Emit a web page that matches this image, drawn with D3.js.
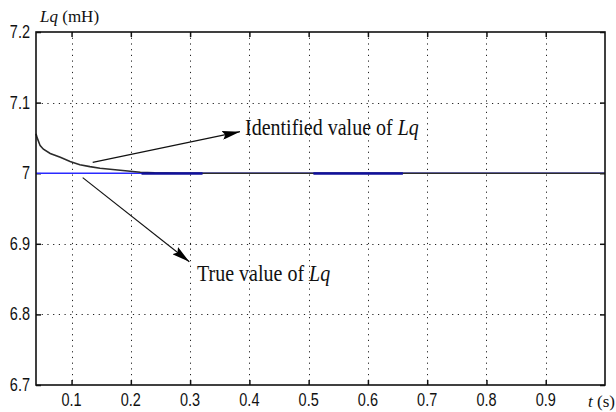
<!DOCTYPE html>
<html>
<head>
<meta charset="utf-8">
<script src="https://cdn.jsdelivr.net/npm/d3@7"></script>
<style>
  body { margin: 0; background: #fff; }
  svg { display: block; }
</style>
</head>
<body>
<svg id="chart" width="616" height="412"></svg>
<script>
// values
var tTicks = [0.1, 0.2, 0.3, 0.4, 0.5, 0.6, 0.7, 0.8, 0.9];
var lqTicks = [6.7, 6.8, 6.9, 7, 7.1, 7.2];
var trueT = [0.04, 1.0];
var trueLq = [7.0, 7.0];
var identT = [0.04, 0.042, 0.047, 0.0525, 0.064, 0.081, 0.0975, 0.114, 0.131, 0.148, 0.165, 0.182, 0.199, 0.216, 0.24, 0.28, 1.0];
var identLq = [7.056, 7.050, 7.039, 7.034, 7.028, 7.0225, 7.0165, 7.012, 7.0093, 7.007, 7.0057, 7.0042, 7.0028, 7.0014, 7.0005, 7.0, 7.0];
// where the true value line shows through
var showT = [[0.218, 0.321], [0.508, 0.659]];
// annotations [fromT, fromLq, toT, toLq], text anchor [t, lq]
var arrowIdent = [0.1357, 7.0154, 0.3842, 7.0588];
var textIdent = [0.3926, 7.054];
var arrowTrue = [0.1188, 6.9937, 0.2987, 6.8746];
var textTrue = [0.3117, 6.8473];

var svg = d3.select("#chart");
var pL = 36, pT = 32, pR = 605, pB = 385;
var serif = "'Liberation Serif', 'Times New Roman', serif";
var sans = "'Liberation Sans', Arial, sans-serif";

var x = d3.scaleLinear().domain([0.04, 1.0]).range([pL, pR]);
var y = d3.scaleLinear().domain([6.7, 7.2]).range([pB, pT]);

// grid
var grid = svg.append("g")
    .attr("stroke", "#222")
    .attr("stroke-width", 1)
    .attr("stroke-dasharray", "1.2,4.5");
grid.selectAll(".gx").data(tTicks).enter().append("line")
    .attr("x1", d => Math.round(x(d)) + 0.5).attr("x2", d => Math.round(x(d)) + 0.5)
    .attr("y1", pT).attr("y2", pB);
grid.selectAll(".gy").data(lqTicks.filter(d => d > 6.7 && d < 7.2)).enter().append("line")
    .attr("y1", d => Math.round(y(d)) + 0.5).attr("y2", d => Math.round(y(d)) + 0.5)
    .attr("x1", pL).attr("x2", pR);

// axes with inner ticks
var tickFmt = d => String(+d.toFixed(1));
var axB = svg.append("g").attr("transform", "translate(0," + pB + ")")
    .call(d3.axisBottom(x).tickValues(tTicks).tickSize(-5).tickFormat(""));
var axT = svg.append("g").attr("transform", "translate(0," + pT + ")")
    .call(d3.axisTop(x).tickValues(tTicks).tickSize(-5).tickFormat(""));
var axL = svg.append("g").attr("transform", "translate(" + pL + ",0)")
    .call(d3.axisLeft(y).tickValues(lqTicks).tickSize(-5).tickFormat(""));
var axR = svg.append("g").attr("transform", "translate(" + pR + ",0)")
    .call(d3.axisRight(y).tickValues(lqTicks).tickSize(-5).tickFormat(""));
[axB, axT, axL, axR].forEach(a => {
  a.select(".domain").remove();
  a.selectAll("line").attr("stroke", "#111").attr("stroke-width", 1.5);
});

// tick labels
svg.append("g").selectAll("text").data(tTicks).enter().append("text")
    .attr("transform", d => "translate(" + x(d) + ",406) scale(1,1.25)")
    .attr("text-anchor", "middle")
    .attr("font-family", sans)
    .attr("font-size", 14.5)
    .attr("fill", "#111")
    .text(tickFmt);
svg.append("g").selectAll("text").data(lqTicks).enter().append("text")
    .attr("transform", d => "translate(30," + (y(d) + 6) + ") scale(1,1.25)")
    .attr("text-anchor", "end")
    .attr("font-family", sans)
    .attr("font-size", 14.5)
    .attr("fill", "#111")
    .text(tickFmt);

// series
var line = d3.line().x(d => x(d[0])).y(d => y(d[1]));
svg.append("path")
    .datum(d3.zip(trueT, trueLq))
    .attr("d", line)
    .attr("fill", "none").attr("stroke", "#2a2aff").attr("stroke-width", 1.5);
svg.append("path")
    .datum(d3.zip(identT, identLq))
    .attr("d", line)
    .attr("fill", "none").attr("stroke", "#2b2b2b").attr("stroke-width", 1.6);
svg.append("g").selectAll("line").data(showT).enter().append("line")
    .attr("x1", d => x(d[0])).attr("x2", d => x(d[1]))
    .attr("y1", y(7) + 0.3).attr("y2", y(7) + 0.3)
    .attr("stroke", "#10109a").attr("stroke-width", 2.4);

// frame
svg.append("rect")
    .attr("x", pL).attr("y", pT)
    .attr("width", pR - pL).attr("height", pB - pT)
    .attr("fill", "none").attr("stroke", "#111").attr("stroke-width", 1.6);

// arrows
svg.append("defs").append("marker")
    .attr("id", "head")
    .attr("markerUnits", "userSpaceOnUse")
    .attr("viewBox", "0 0 18 9")
    .attr("refX", 18).attr("refY", 4.5)
    .attr("markerWidth", 18).attr("markerHeight", 9)
    .attr("orient", "auto")
  .append("path").attr("d", "M0,0 L18,4.5 L0,9 L3,4.5 Z").attr("fill", "#000");

[arrowIdent, arrowTrue].forEach(a => {
  svg.append("line")
      .attr("x1", x(a[0])).attr("y1", y(a[1]))
      .attr("x2", x(a[2])).attr("y2", y(a[3]))
      .attr("stroke", "#111").attr("stroke-width", 1.2)
      .attr("marker-end", "url(#head)");
});

function serifLabel(pos, before, italic, size, stretch) {
  var t = svg.append("text")
      .attr("transform", "translate(" + pos[0] + "," + pos[1] + ") scale(1," + stretch + ")")
      .attr("font-family", serif)
      .attr("font-size", size)
      .attr("fill", "#111");
  t.append("tspan").text(before);
  t.append("tspan").attr("font-style", "italic").text(italic);
  return t;
}
serifLabel([x(textIdent[0]), y(textIdent[1])], "Identified value of ", "Lq", 20, 1.15);
serifLabel([x(textTrue[0]), y(textTrue[1])], "True value of ", "Lq", 20, 1.15);

// axis titles
var yt = svg.append("text").attr("x", 40).attr("y", 22)
    .attr("font-family", serif)
    .attr("font-size", 17).attr("fill", "#111");
yt.append("tspan").attr("font-style", "italic").text("Lq");
yt.append("tspan").text(" (mH)");
var xt = svg.append("text").attr("x", 588).attr("y", 407)
    .attr("font-family", serif)
    .attr("font-size", 17).attr("fill", "#111");
xt.append("tspan").attr("font-style", "italic").text("t");
xt.append("tspan").text(" (s)");
</script>
</body>
</html>
